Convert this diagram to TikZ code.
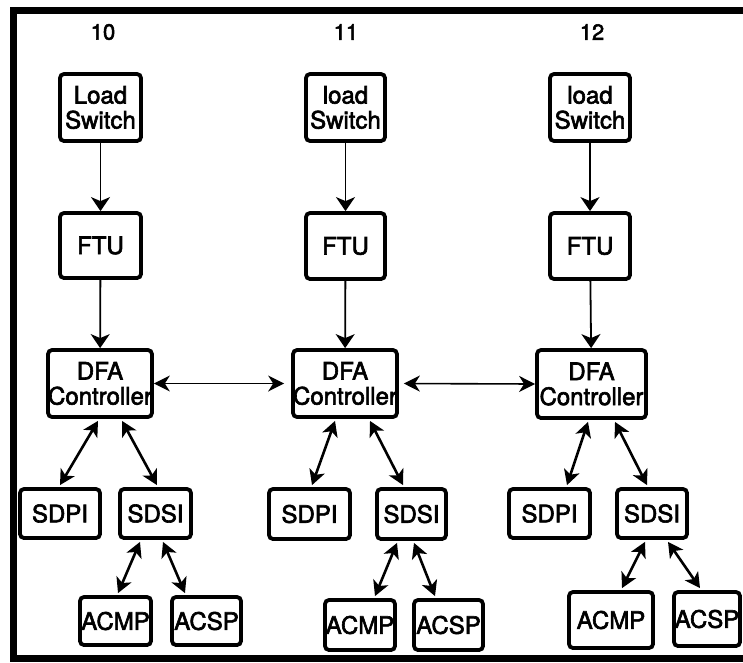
\documentclass[tikz,border=0pt]{standalone}
\usepackage{fontspec}
\setmainfont{TeX Gyre Heros}[FakeBold=2.5]
\usetikzlibrary{arrows.meta,calc}
\begin{document}
\begin{tikzpicture}[x=1pt,y=-1pt,
  box/.style={draw, line width=3.8pt, rounded corners=4pt, inner sep=0pt,
    align=center, font=\fontsize{24}{25}\selectfont, fill=white},
  lbl/.style={font=\fontsize{22}{24}\selectfont},
  vlink/.style={line width=1.8pt, -{Stealth[length=14pt,width=19pt,inset=4pt]}},
  dlink/.style={line width=2.6pt, {Stealth[length=15pt,width=16pt,inset=4pt]}-{Stealth[length=15pt,width=16pt,inset=4pt]}},
  hlink/.style={line width=1.6pt, {Stealth[length=16pt,width=16pt,inset=5pt]}-{Stealth[length=16pt,width=16pt,inset=5pt]}}
]
\useasboundingbox (0,0) rectangle (743,662);
\fill[white] (0,0) rectangle (743,662);
% frame (open on the right)
\draw[line width=7pt] (743,10.5) -- (13,10.5) -- (13,658.5) -- (743,658.5);

% column labels
\node[lbl] (l10) at (103,32) {10};
\node[lbl] (l11) at (346,32) {11};
\node[lbl] (l12) at (592,32) {12};

% column 10
\node[box, minimum width=81pt, minimum height=67pt] (ls1) at (100.5,107.5) {Load\\Switch};
\node[box, minimum width=81pt, minimum height=65pt] (ftu1) at (100.5,245.5) {FTU};
\node[box, minimum width=100pt, minimum height=67pt] (dfa1) at (100,383.5) {DFA\\Controller};
\node[box, minimum width=80pt, minimum height=49pt] (sdpi1) at (60,513.5) {SDPI};
\node[box, minimum width=71pt, minimum height=49pt] (sdsi1) at (155.5,513.5) {SDSI};
\node[box, minimum width=71pt, minimum height=48pt] (acmp1) at (115.5,621) {ACMP};
\node[box, minimum width=69pt, minimum height=48pt] (acsp1) at (206.5,621) {ACSP};

% column 11
\node[box, minimum width=79pt, minimum height=67pt] (ls2) at (345.5,107.5) {load\\Switch};
\node[box, minimum width=79pt, minimum height=66pt] (ftu2) at (345.5,246) {FTU};
\node[box, minimum width=100pt, minimum height=67pt] (dfa2) at (345,383.5) {DFA\\Controller};
\node[box, minimum width=81pt, minimum height=50pt] (sdpi2) at (309.5,514) {SDPI};
\node[box, minimum width=69pt, minimum height=50pt] (sdsi2) at (411.5,514) {SDSI};
\node[box, minimum width=70pt, minimum height=50pt] (acmp2) at (360,625) {ACMP};
\node[box, minimum width=69pt, minimum height=50pt] (acsp2) at (448.5,625) {ACSP};

% column 12
\node[box, minimum width=80pt, minimum height=67pt] (ls3) at (590,107.5) {load\\Switch};
\node[box, minimum width=80pt, minimum height=66pt] (ftu3) at (590,246) {FTU};
\node[box, minimum width=109pt, minimum height=68pt] (dfa3) at (591.5,384) {DFA\\Controller};
\node[box, minimum width=81pt, minimum height=49pt] (sdpi3) at (549.5,513.5) {SDPI};
\node[box, minimum width=70pt, minimum height=49pt] (sdsi3) at (652,513.5) {SDSI};
\node[box, minimum width=84pt, minimum height=56pt] (acmp3) at (611,620) {ACMP};
\node[box, minimum width=66pt, minimum height=54pt] (acsp3) at (707,619) {ACSP};

% vertical links
\draw[vlink] (ls1) -- (ftu1);
\draw[vlink] (ftu1) -- (dfa1);
\draw[vlink] (ls2) -- (ftu2);
\draw[vlink] (ftu2) -- (dfa2);
\draw[vlink] (ls3) -- (ftu3);
\draw[vlink] (ftu3) -- (dfa3);

% horizontal links
\draw[hlink, shorten >=7pt] (dfa1.east) -- (dfa2.west);
\draw[hlink, shorten <=5pt] (dfa2.east) -- (dfa3.west);

% diagonal links column 10
\draw[dlink] ([xshift=-2pt,yshift=-2pt]dfa1.south) -- ([yshift=2pt]sdpi1.north);
\draw[dlink] ([xshift=22pt,yshift=-2pt]dfa1.south) -- ([xshift=1.5pt,yshift=2pt]sdsi1.north);
\draw[dlink] ([xshift=-15.5pt,yshift=-2pt]sdsi1.south) -- ([xshift=2.5pt,yshift=2pt]acmp1.north);
\draw[dlink] ([xshift=7.5pt,yshift=-2pt]sdsi1.south) -- ([xshift=-21.5pt,yshift=2pt]acsp1.north);

% diagonal links column 11
\draw[dlink] ([xshift=-10pt,yshift=-2pt]dfa2.south) -- ([xshift=2.5pt,yshift=2pt]sdpi2.north);
\draw[dlink] ([xshift=25pt,yshift=-2pt]dfa2.south) -- ([xshift=-8.5pt,yshift=2pt]sdsi2.north);
\draw[dlink] ([xshift=-14.5pt,yshift=-2pt]sdsi2.south) -- ([xshift=15pt,yshift=2pt]acmp2.north);
\draw[dlink] ([xshift=2.5pt,yshift=-2pt]sdsi2.south) -- ([xshift=-13.5pt,yshift=2pt]acsp2.north);

% diagonal links column 12
\draw[dlink] ([xshift=-3.5pt,yshift=-2pt]dfa3.south) -- ([xshift=17.5pt,yshift=2pt]sdpi3.north);
\draw[dlink] ([xshift=23.5pt,yshift=-2pt]dfa3.south) -- ([xshift=-5pt,yshift=2pt]sdsi3.north);
\draw[dlink] ([xshift=-7pt,yshift=-2pt]sdsi3.south) -- ([xshift=11pt,yshift=2pt]acmp3.north);
\draw[dlink] ([xshift=16pt,yshift=-2pt]sdsi3.south) -- ([xshift=-7pt,yshift=2pt]acsp3.north);
\end{tikzpicture}
\end{document}
